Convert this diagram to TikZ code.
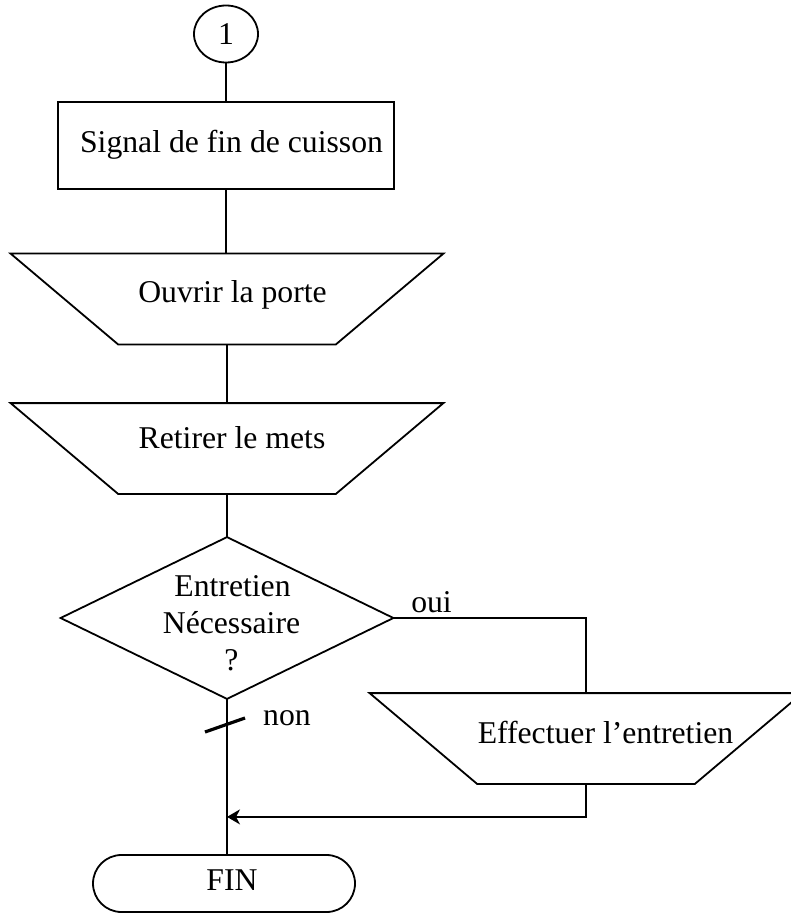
\documentclass[tikz,border=0pt]{standalone}
\usepackage{fontspec}
\setmainfont{Liberation Serif}
\usetikzlibrary{shapes.geometric,arrows.meta,calc}
\begin{document}
\begin{tikzpicture}[x=0.5pt,y=-0.5pt,line width=0.9pt,
  txt/.style={font=\fontsize{15.85}{19}\selectfont},
  lbl/.style={txt,inner sep=0pt,anchor=base},
  frame/.style={rectangle,draw=none,inner sep=0pt},
  procbox/.style={rectangle,draw,inner sep=0pt,minimum width=168pt,minimum height=43.5pt},
  trapframe/.style={frame,minimum width=215.5pt,minimum height=44.5pt},
  connector/.style={ellipse,draw,inner sep=0pt,minimum width=32pt,minimum height=28.5pt,txt},
  terminal/.style={rectangle,draw,rounded corners=14.25pt,inner sep=0pt,minimum width=131pt,minimum height=28.5pt},
  flow/.style={-{Stealth[length=6.5pt,width=7.5pt,inset=2pt]}},
  slash/.style={line width=1.6pt}]
\useasboundingbox (0,0) rectangle (791,914);

% off-page connector
\node[connector] (start) at (226,34) {1};

% process box
\node[procbox] (signal) at (226,145.5) {};
\node[lbl] (tsignal) at (231.5,153) {Signal de fin de cuisson};

% manual operations (trapezoids, wide side on top)
\node[trapframe] (ouvrir) at (227,299) {};
\draw (ouvrir.north west) -- (ouvrir.north east)
  -- ([xshift=-53.75pt]ouvrir.south east) -- ([xshift=53.75pt]ouvrir.south west) -- cycle;
\node[lbl] (touvrir) at (232.5,302) {Ouvrir la porte};

\node[trapframe] (retirer) at (227,448.5) {};
\draw (retirer.north west) -- (retirer.north east)
  -- ([xshift=-53.75pt]retirer.south east) -- ([xshift=53.75pt]retirer.south west) -- cycle;
\node[lbl] (tretirer) at (232,448.5) {Retirer le mets};

% decision
\node[frame,minimum width=165.5pt,minimum height=80pt] (dec) at (227,618) {};
\draw (dec.north) -- (dec.east) -- (dec.south) -- (dec.west) -- cycle;
\node[lbl] (tdec1) at (232.5,596) {Entretien};
\node[lbl] (tdec2) at (231.5,633) {Nécessaire};
\node[lbl] (tdec3) at (231.5,670) {?};

% maintenance branch
\node[trapframe] (entretien) at (586,738.5) {};
\draw (entretien.north west) -- (entretien.north east)
  -- ([xshift=-53.75pt]entretien.south east) -- ([xshift=53.75pt]entretien.south west) -- cycle;
\node[lbl] (tentretien) at (605.5,743) {Effectuer l’entretien};

% end
\node[terminal] (fin) at (224,883.5) {};
\node[lbl] (tfin) at (232,890) {FIN};

% branch labels
\node[lbl] (oui) at (431.5,612) {oui};
\node[lbl] (non) at (287,725) {non};

% connectors
\draw (start.south) -- (start.south |- signal.north);
\draw (signal.south) -- (signal.south |- ouvrir.north);
\draw (ouvrir.south) -- (retirer.north);
\draw (retirer.south) -- (dec.north);
\draw (dec.east) -| (entretien.north);
\draw (dec.south) -- (dec.south |- fin.north);
\coordinate (ret) at ($(entretien.south)+(0,33)$);
\draw[flow] (entretien.south) -- (ret) -- (ret -| dec.south);

% tick on the "non" branch
\coordinate (tickA) at (205,732);
\coordinate (tickB) at (245,718);
\draw[slash] (tickA) -- (tickB);
\end{tikzpicture}
\end{document}
